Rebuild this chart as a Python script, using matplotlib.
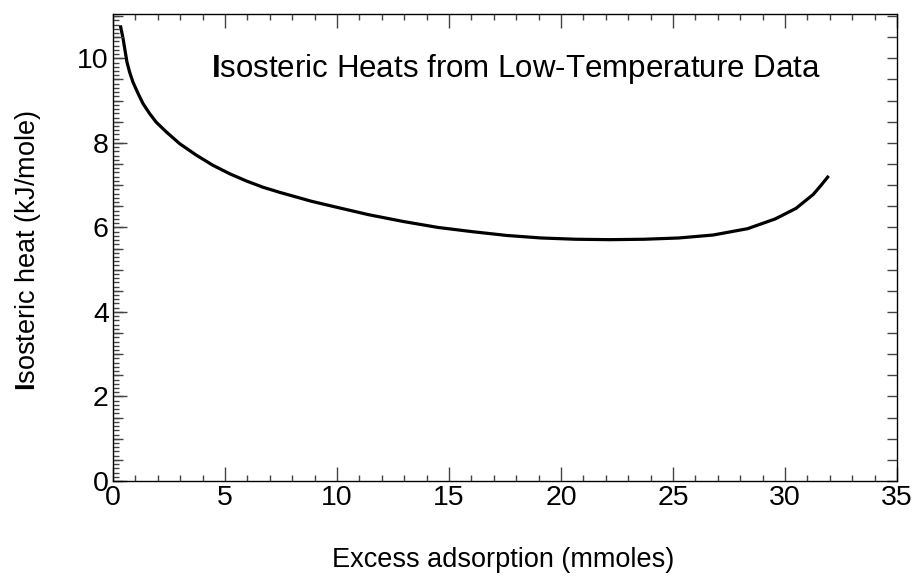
import matplotlib.pyplot as plt
from matplotlib.ticker import MultipleLocator

# values
adsorption = [0.33, 0.45, 0.55, 0.625, 0.74, 0.89, 1.12, 1.34, 1.64, 1.93,
              2.38, 2.98, 3.72, 4.46, 5.21, 5.95, 6.70, 7.44, 8.18, 8.85,
              9.88, 11.42, 12.96, 14.5, 16.03, 17.57, 19.11, 20.65, 22.18,
              23.72, 25.26, 26.79, 28.33, 29.56, 30.49, 31.26, 31.6, 31.95]
heat = [10.78, 10.47, 10.15, 9.91, 9.68, 9.44, 9.17, 8.93, 8.69, 8.49,
        8.26, 7.98, 7.71, 7.47, 7.27, 7.10, 6.95, 6.83, 6.72, 6.62,
        6.49, 6.30, 6.14, 6.00, 5.90, 5.81, 5.75, 5.72, 5.71,
        5.72, 5.75, 5.82, 5.97, 6.20, 6.45, 6.78, 6.99, 7.22]

title = r"$\mathbf{I}$sosteric Heats from Low-Temperature Data"
xlabel = "Excess adsorption (mmoles)"
ylabel = r"$\mathbf{I}$sosteric heat (kJ/mole)"

plt.rcParams['font.family'] = ['Liberation Sans', 'DejaVu Sans']
plt.rcParams['mathtext.fontset'] = 'custom'
plt.rcParams['mathtext.rm'] = 'Liberation Sans'
plt.rcParams['mathtext.bf'] = 'Liberation Sans:bold'

fig = plt.figure(figsize=(9.14, 5.8), dpi=100)
ax = fig.add_axes([0.1236, 0.1707, 0.8578, 0.8052])

ax.plot(adsorption, heat, color='black', lw=2.3, solid_capstyle='butt',
        solid_joinstyle='round')

ax.set_xlim(0, 35)
ax.set_ylim(0, 11.05)
ax.xaxis.set_major_locator(MultipleLocator(5))
ax.xaxis.set_minor_locator(MultipleLocator(1))
ax.yaxis.set_major_locator(MultipleLocator(2))
ax.yaxis.set_minor_locator(MultipleLocator(0.1))
ax.tick_params(which='both', direction='in', top=True, right=True,
               color='#444444', width=1)
ax.tick_params(which='major', length=10, labelsize=20.5, pad=3)
ax.tick_params(which='minor', length=4)

# medium ticks every 0.5 on the y axis
ax2 = ax.twinx()
ax2.set_ylim(ax.get_ylim())
ax2.yaxis.set_major_locator(MultipleLocator(0.5))
ax2.tick_params(direction='in', left=True, right=True, labelleft=False,
                labelright=False, length=7, color='#444444', width=1)

for sp in ax.spines.values():
    sp.set_color('#444444')
    sp.set_linewidth(1)

ax.text(0.125, 0.882, title, transform=ax.transAxes, fontsize=22.5,
        va='center', ha='left')
fig.text(0.55, 0.0345, xlabel, fontsize=19.5, ha='center', va='center')
fig.text(0.031, 0.567, ylabel, fontsize=19.5, ha='center', va='center',
         rotation=90)

fig.savefig('out.png', dpi=100)
